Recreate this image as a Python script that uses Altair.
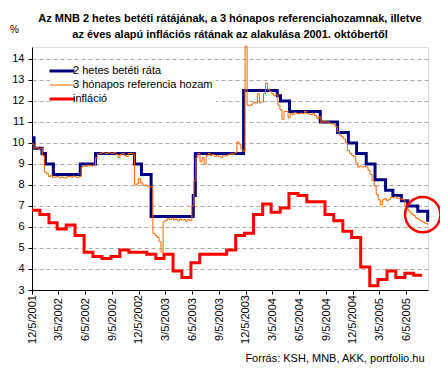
import altair as alt
import pandas as pd

FONT = "Liberation Sans"

names = ["2 hetes betéti ráta", "3 hónapos referencia hozam", "infláció"]
colors = ["#000080", "#FF6600", "#FF0000"]
widths = [3, 1, 3]

title_lines = [
    "Az MNB 2 hetes betéti rátájának, a 3 hónapos referenciahozamnak, illetve",
    "az éves alapú inflációs rátának az alakulása 2001. októbertől",
]
source_text = "Forrás: KSH, MNB, AKK, portfolio.hu"

# 2-week deposit rate (step changes)
blue_dates = [
    "2001-12-05", "2001-12-12", "2002-01-08", "2002-01-20", "2002-02-16",
    "2002-05-19", "2002-07-10", "2002-11-20", "2002-12-14", "2003-01-16",
    "2003-06-09", "2003-06-16", "2003-11-28", "2004-03-22", "2004-04-02",
    "2004-05-03", "2004-08-16", "2004-10-14", "2004-11-20", "2004-12-18",
    "2005-01-20", "2005-02-19", "2005-03-27", "2005-04-21", "2005-05-20",
    "2005-06-11", "2005-07-15", "2005-08-18",
]
blue_values = [
    10.25, 9.75, 9.5, 9.0, 8.5, 9.0, 9.5, 9.0, 8.5, 6.5,
    7.5, 9.5, 12.5, 12.25, 12.0, 11.5, 11.0, 10.5, 10.0, 9.5,
    9.0, 8.25, 7.75, 7.5, 7.25, 7.0, 6.75, 6.25,
]

# 3-month reference yield, weekly from 2001-12-05
orange_start = "2001-12-05"
orange_values = [
    9.95, 9.75, 9.8, 9.72, 9.75, 9.4, 8.62, 8.55, 8.4, 8.45,
    8.35, 8.38, 8.4, 8.35, 8.38, 8.36, 8.33, 8.4, 8.4, 8.37,
    8.42, 8.38, 8.35, 8.4, 8.85, 8.9, 8.88, 8.95, 8.92, 8.9,
    8.95, 9.3, 9.48, 9.5, 9.55, 9.52, 9.5, 9.55, 9.52, 9.5,
    9.55, 9.45, 9.3, 9.45, 9.5, 9.4, 9.35, 9.5, 9.5, 9.48,
    8.0, 8.05, 8.3, 8.1, 7.97, 8.0, 7.95, 7.9, 7.92, 5.7,
    5.6, 5.5, 5.3, 4.8, 6.25, 6.3, 6.4, 6.35, 6.42, 6.33,
    6.38, 6.3, 6.38, 6.33, 6.35, 6.28, 6.35, 6.3, 7.0, 8.2,
    9.3, 9.5, 9.1, 9.3, 9.0, 9.4, 9.5, 9.4, 9.45, 9.35,
    9.4, 9.35, 9.3, 9.4, 9.38, 9.42, 9.45, 9.5, 9.45, 9.55,
    10.05, 9.95, 9.7, 9.6, 14.6, 11.8, 11.78, 11.85, 11.95, 11.9,
    12.35, 11.92, 11.95, 12.35, 12.85, 12.55, 12.45, 12.35, 12.25, 12.3,
    11.8, 11.6, 11.13, 11.5, 11.5, 11.2, 11.4, 11.35, 11.45, 11.4,
    11.38, 11.42, 11.4, 11.5, 11.4, 11.38, 11.35, 11.4, 11.3, 11.15,
    11.25, 10.95, 11.05, 11.0, 11.0, 10.95, 10.92, 10.9, 10.78, 10.55,
    10.38, 10.3, 10.2, 10.0, 9.65, 9.5, 9.42, 9.35, 9.05, 8.85,
    8.9, 8.85, 8.88, 8.85, 8.7, 8.5, 8.2, 7.95, 7.55, 7.3,
    7.05, 7.3, 7.35, 7.25, 7.32, 7.42, 7.4, 7.45, 7.35, 7.38,
    7.32, 7.3, 7.0, 6.85, 6.73, 6.62, 6.55, 6.45, 6.4, 6.33,
    6.27, 6.22, 6.17, 6.1,
]

# annual inflation, monthly Dec 2001 - Jul 2005
red_values = [
    6.8,
    6.6, 6.2, 5.9, 6.1, 5.6, 4.8, 4.6, 4.5, 4.6, 4.9, 4.8, 4.8,
    4.7, 4.5, 4.7, 3.9, 3.6, 4.3, 4.7, 4.7, 4.7, 4.9, 5.6, 5.7,
    6.6, 7.1, 6.7, 6.9, 7.6, 7.5, 7.2, 7.2, 6.6, 6.3, 5.8, 5.5,
    4.1, 3.2, 3.5, 3.9, 3.6, 3.8, 3.7,
]
red_first = "2001-12-05"
red_end = "2005-07-30"

tick_dates = [
    (2001, 12, 5), (2002, 3, 5), (2002, 6, 5), (2002, 9, 5), (2002, 12, 5),
    (2003, 3, 5), (2003, 6, 5), (2003, 9, 5), (2003, 12, 5),
    (2004, 3, 5), (2004, 6, 5), (2004, 9, 5), (2004, 12, 5),
    (2005, 3, 5), (2005, 6, 5),
]
x_domain = [(2001, 12, 5), (2005, 8, 19)]
y_ticks = list(range(3, 15))
y_domain = [3, 14.57]

circle_date = ["2005-08-01"]
circle_value = [6.59]

# ---- tables ----
blue_df = pd.DataFrame({"date": blue_dates, "value": blue_values, "series": names[0]})
orange_dates = pd.date_range(orange_start, periods=len(orange_values), freq="7D").strftime("%Y-%m-%d")
orange_df = pd.DataFrame({"date": list(orange_dates), "value": orange_values, "series": names[1]})
red_dates = [red_first] + list(
    pd.date_range("2002-01-01", periods=len(red_values) - 1, freq="MS").strftime("%Y-%m-%d")
) + [red_end]
red_df = pd.DataFrame({"date": red_dates, "value": red_values + [red_values[-1]], "series": names[2]})
circle_df = pd.DataFrame({"date": circle_date, "value": circle_value})


def dt(t):
    return alt.DateTime(year=t[0], month=t[1], date=t[2], utc=True)


x_enc = alt.X(
    "date:T",
    scale=alt.Scale(type="utc", domain=[dt(t) for t in x_domain], nice=False),
    axis=alt.Axis(
        values=[dt(t) for t in tick_dates],
        tickCount=40,
        format="%-m/%-d/%Y",
        labelAngle=270,
        labelAlign="center",
        labelBaseline="middle",
        labelPadding=25,
        labelOverlap=False,
        labelSeparation=0,
        labelFlush=False,
        labelBound=False,
        labelFontSize=11,
        labelFont=FONT,
        labelColor="black",
        tickSize=4,
        tickColor="black",
        domainColor="black",
        grid=False,
        title=source_text,
        titleX=392,
        titleY=71,
        titleAlign="right",
        titleBaseline="alphabetic",
        titleAngle=0,
        titleFont=FONT,
        titleFontSize=11,
        titleFontWeight="normal",
        titleColor="black",
    ),
)
y_enc = alt.Y(
    "value:Q",
    scale=alt.Scale(domain=y_domain, nice=False, zero=False),
    axis=alt.Axis(
        values=y_ticks,
        tickCount=40,
        format="d",
        labelOverlap=False,
        labelSeparation=0,
        labelFontSize=11,
        labelFont=FONT,
        labelColor="black",
        labelPadding=4,
        tickSize=4,
        tickColor="black",
        domainColor="black",
        grid=True,
        gridColor="#aaaaa0",
        gridDash=[4, 3],
        gridWidth=1,
        title="%",
        titleAngle=0,
        titleX=-18,
        titleY=-15,
        titleAlign="center",
        titleBaseline="alphabetic",
        titleFont=FONT,
        titleFontSize=10,
        titleFontWeight="normal",
        titleColor="black",
    ),
)

legend = alt.Legend(
    title=None,
    orient="none",
    legendX=20,
    legendY=14,
    direction="vertical",
    symbolType="M-2.27,0H2.27",
    symbolSize=121,
    labelFontSize=11,
    labelFont=FONT,
    labelColor="black",
    labelOffset=4,
    fillColor="white",
    padding=3,
    rowPadding=2,
)
color_enc = alt.Color("series:N", scale=alt.Scale(domain=names, range=colors), legend=legend)
width_enc = alt.StrokeWidth(
    "series:N", scale=alt.Scale(type="ordinal", domain=names, range=widths), legend=legend
)


def line_layer(df):
    return alt.Chart(df).mark_line(interpolate="step-after").encode(
        x=x_enc, y=y_enc, color=color_enc, strokeWidth=width_enc
    )


circle = alt.Chart(circle_df).mark_point(
    shape="circle", filled=False, size=1250, color="#FF0000", strokeWidth=2.5, opacity=1
).encode(x="date:T", y="value:Q")

chart = alt.layer(
    line_layer(blue_df), line_layer(orange_df), line_layer(red_df), circle
).properties(
    width=396,
    height=243,
    autosize=alt.AutoSizeParams(type="none"),
    padding={"left": 24, "top": 39, "right": 12, "bottom": 74},
    title=alt.TitleParams(
        text=title_lines,
        font=FONT,
        fontSize=11,
        fontWeight="bold",
        color="black",
        anchor="middle",
        lineHeight=16,
        dy=20,
    ),
).configure_view(stroke=None).configure(font=FONT, background="white")

chart.save("out.html", embed_options={"renderer": "svg", "actions": False})
